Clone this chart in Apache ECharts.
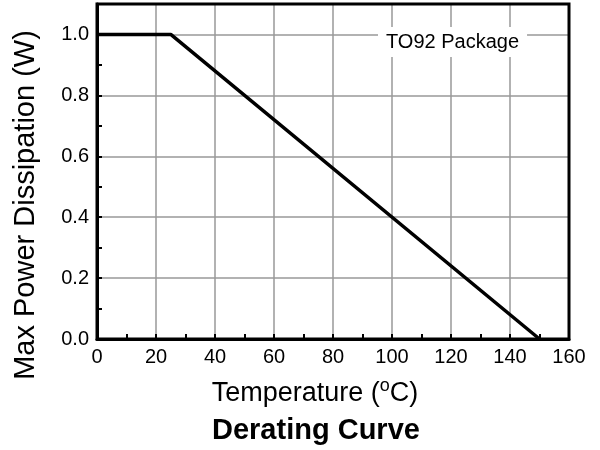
<!DOCTYPE html>
<html><head><meta charset="utf-8">
<script src="https://cdn.jsdelivr.net/npm/echarts@6/dist/echarts.min.js"></script>
<style>html,body{margin:0;padding:0;background:#fff}#c{width:600px;height:450px}</style>
</head><body><div id="c"></div>
<script>
const temperature = [0, 25, 150];
const power = [1.0, 1.0, 0.0];
const xTicks = [0, 20, 40, 60, 80, 100, 120, 140, 160];
const yTicks = [0.0, 0.2, 0.4, 0.6, 0.8, 1.0];
const chartTitle = 'Derating Curve';
const packageLabel = 'TO92 Package';
const yAxisName = 'Max Power Dissipation (W)';

const FONT = '"Liberation Sans", Arial, sans-serif';
const chart = echarts.init(document.getElementById('c'), null, {renderer: 'canvas'});
chart.setOption({
  animation: false,
  backgroundColor: '#fff',
  title: [
    {text: chartTitle, left: 212, top: 416, padding: 0, textStyle: {fontFamily: FONT, fontSize: 29, fontWeight: 'bold', color: '#000'}},
    {text: packageLabel, left: 378, top: 27, backgroundColor: '#fff', padding: [5, 8, 5, 8],
     textStyle: {fontFamily: FONT, fontSize: 20, fontWeight: 'normal', color: '#000', lineHeight: 20}}
  ],
  graphic: [{
    type: 'text', x: 26, y: 205, rotation: Math.PI / 2,
    style: {text: yAxisName, font: '29px "Liberation Sans", Arial, sans-serif', fill: '#000',
      textAlign: 'center', textVerticalAlign: 'middle'}
  }],
  grid: {left: 97, right: 31, top: 4, bottom: 111, show: true, borderColor: '#000', borderWidth: 3, containLabel: false, z: 5},
  xAxis: {
    type: 'value', min: 0, max: 160, interval: 20,
    name: 'Temperature ({sup|o}C)', nameLocation: 'middle', nameGap: 38,
    nameTextStyle: {fontFamily: FONT, fontSize: 27, color: '#000', padding: [0, 36, 0, 0],
      rich: {sup: {fontFamily: FONT, fontSize: 18, color: '#000', padding: [0, 0, 16, 0]}}},
    axisLine: {show: true, lineStyle: {color: '#000', width: 3}},
    axisTick: {show: true, inside: true, length: 5, lineStyle: {color: '#000', width: 2}},
    minorTick: {show: true, splitNumber: 2, length: 5, lineStyle: {color: '#000', width: 2}},
    axisLabel: {fontFamily: FONT, fontSize: 20, color: '#000', margin: 8,
      formatter: v => xTicks.includes(v) ? String(v) : ''},
    splitLine: {show: true, lineStyle: {color: '#999', width: 1.5}}
  },
  yAxis: {
    type: 'value', min: 0, max: 1.1, interval: 0.2,
    axisLine: {show: true, lineStyle: {color: '#000', width: 3}},
    axisTick: {show: true, inside: true, length: 5, lineStyle: {color: '#000', width: 2}},
    minorTick: {show: true, splitNumber: 2, length: 5, lineStyle: {color: '#000', width: 2}},
    axisLabel: {fontFamily: FONT, fontSize: 20, color: '#000', margin: 8, showMaxLabel: false,
      formatter: v => {const t = yTicks.find(y => Math.abs(y - v) < 1e-6); return t === undefined ? '' : t.toFixed(1);}},
    splitLine: {show: true, lineStyle: {color: '#999', width: 1.5}}
  },
  series: [{
    type: 'line', data: temperature.map((t, i) => [t, power[i]]),
    symbol: 'none', lineStyle: {color: '#000', width: 3.5}, z: 3
  }]
});
</script></body></html>
